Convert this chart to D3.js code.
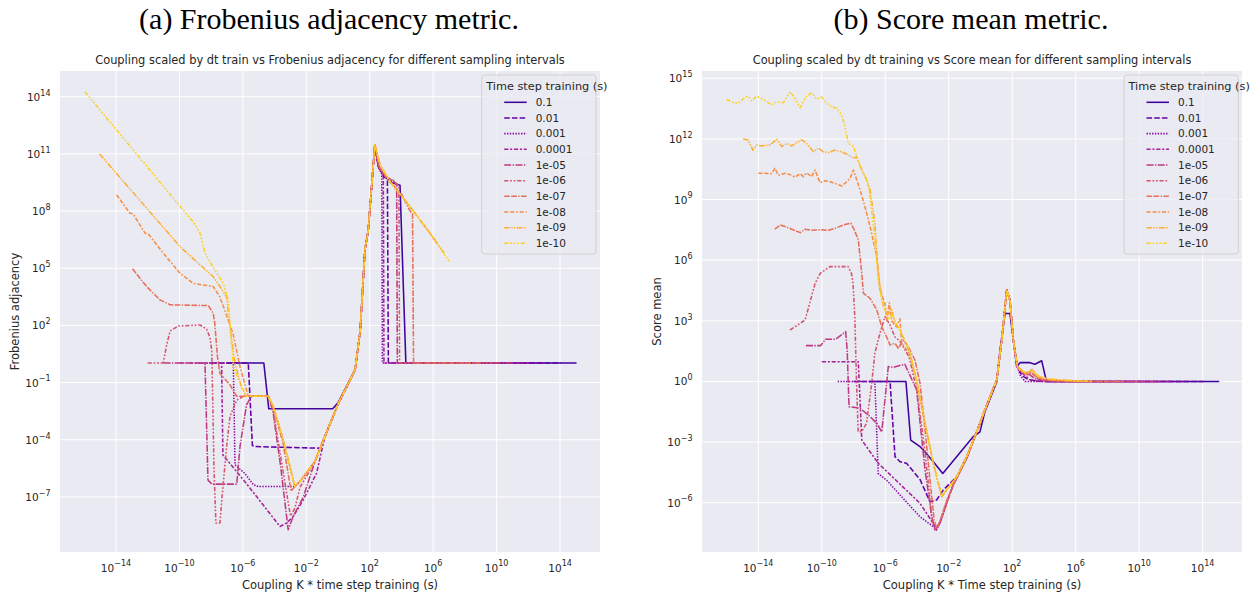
<!DOCTYPE html>
<html>
<head>
<meta charset="utf-8">
<script src="https://cdn.jsdelivr.net/npm/d3@7"></script>
<style>
  body { margin: 0; background: #ffffff; }
  svg text { font-family: "DejaVu Sans", sans-serif; fill: #262626; }
</style>
</head>
<body>
<svg id="fig" width="1256" height="592"></svg>
<script>
// ---- Hue levels (training time step, seconds) ----
const dtLabels = ["0.1", "0.01", "0.001", "0.0001", "1e-05", "1e-06", "1e-07", "1e-08", "1e-09", "1e-10"];

// ---- Tick values ----
const xTicks = [1e-14, 1e-10, 1e-6, 1e-2, 1e2, 1e6, 1e10, 1e14];
const adjYTicks = [1e-7, 1e-4, 1e-1, 1e2, 1e5, 1e8, 1e11, 1e14];
const scoreYTicks = [1e-6, 1e-3, 1, 1e3, 1e6, 1e9, 1e12, 1e15];

// ---- Frobenius adjacency vs coupling K * dt, one array per dt ----
const adj_1e1 = [[1e-7,1.07],[2.1e-5,1.07],[4.3e-5,4.2e-3],[0.46,4.2e-3],[1.0,8.7e-3],[12,0.47],[25,50],[50,9.1e5],[81,1e7],[210,3.0e11],[350,2.1e10],[930,6.3e9],[2500,3.1e9],[8100,2.3e9],[1.9e4,1.07],[1.1e15,1.07]];
const adj_1e2 = [[1e-8,1.07],[2.2e-6,1.07],[4.0e-6,5.0e-5],[5.6e-6,4.4e-5],[0.074,3.6e-5],[0.15,1.5e-4],[1.05,8.1e-3],[12,0.47],[25,50],[50,9.1e5],[81,1e7],[210,3.0e11],[350,2.3e10],[790,6.3e9],[1300,5.0e9],[1500,1.07],[1.1e14,1.07]];
const adj_1e3 = [[1e-9,1.07],[2.5e-7,1.07],[3.2e-7,4.8e-6],[1.35e-6,1.7e-6],[4.6e-6,4.4e-7],[9.3e-6,3.5e-7],[1.9e-3,3.5e-7],[4.0e-3,6.5e-7],[3.5e-2,7.2e-6],[0.15,1.5e-4],[1.05,8.1e-3],[12,0.47],[25,50],[50,9.1e5],[81,1e7],[210,3.0e11],[350,2.0e10],[575,8.9e9],[630,1.07],[1.1e13,1.07]];
const adj_1e4 = [[1e-10,1.07],[4.6e-8,1.07],[5.5e-8,1.6e-5],[1.35e-6,6.3e-7],[2.2e-4,2.8e-9],[5.8e-4,4.3e-9],[1.5e-3,9.5e-9],[6.5e-3,7.1e-8],[4.5e-2,1.8e-6],[0.15,1.5e-4],[1.05,8.1e-3],[12,0.47],[25,50],[50,9.1e5],[81,1e7],[210,3.0e11],[350,2.3e10],[720,7.9e9],[790,1.07],[1.1e12,1.07]];
const adj_1e5 = [[1e-11,1.07],[4.1e-9,1.07],[6.3e-9,7.8e-7],[1.1e-8,4.7e-7],[4.1e-7,4.7e-7],[6.6e-7,4.4e-5],[1.7e-6,6.8e-3],[3.5e-6,1.9e-2],[4.0e-5,1.9e-2],[7.9e-5,3.2e-3],[2.5e-4,3.2e-6],[7.2e-4,1.9e-9],[1.5e-3,9.5e-9],[6.5e-3,1e-7],[3.5e-2,7.2e-6],[0.15,1.5e-4],[1.05,8.1e-3],[12,0.47],[25,50],[50,9.1e5],[81,1e7],[210,3.0e11],[350,2.5e10],[1000,6.3e9],[2800,4.0e9],[5000,2.5e9],[5500,1.07],[1.1e11,1.07]];
const adj_1e6 = [[1e-12,1.07],[9.5e-12,1.07],[1.6e-11,10],[2.6e-11,51],[8.5e-11,93],[2.0e-9,105],[5.2e-9,63],[8.5e-9,23],[1.1e-8,4.6],[1.26e-8,1.2e-2],[1.5e-8,4.0e-6],[2.0e-8,4.3e-9],[3.6e-8,4.3e-9],[4.7e-8,7.1e-8],[9.5e-8,4.4e-5],[1.55e-7,1.7e-3],[4.1e-7,1.2e-2],[1.07e-6,1.9e-2],[4.0e-5,1.9e-2],[7.9e-5,4.0e-3],[3.2e-4,3.2e-6],[1e-3,1e-8],[1.9e-3,2.5e-8],[4.0e-3,3.2e-7],[3.5e-2,7.2e-6],[0.15,1.5e-4],[1.05,8.1e-3],[12,0.47],[25,50],[50,9.1e5],[81,1e7],[210,3.0e11],[350,2.5e10],[1000,6.3e9],[3200,4.0e9],[6900,2.0e9],[7600,1.07],[1.1e10,1.07]];
const adj_1e7 = [[1.1e-13,9.3e4],[8.5e-13,1.1e4],[5.9e-12,2.2e3],[2.6e-11,1.2e3],[6.6e-9,1.1e3],[1.35e-8,440],[1.7e-8,130],[2.5e-8,2.3],[3.6e-8,0.30],[1.55e-7,7.6e-2],[4.1e-7,1.9e-2],[4.0e-5,1.9e-2],[8.3e-5,5.0e-3],[3.5e-4,6.3e-5],[1.1e-3,2.0e-7],[1.9e-3,3.5e-7],[4.0e-3,6.5e-7],[3.5e-2,7.2e-6],[0.15,1.5e-4],[1.05,8.1e-3],[12,0.47],[25,50],[50,9.1e5],[81,1e7],[210,3.0e11],[400,2.0e10],[2000,3.2e9],[1e4,7.9e8],[3.5e4,1.0e8],[5.0e4,7.1e7],[5.8e4,1.07],[1.1e9,1.07]];
const adj_1e8 = [[1.1e-14,7.1e8],[7.6e-14,7.6e7],[1.2e-13,7.1e7],[6.8e-13,6.9e6],[1.1e-12,6.3e6],[9.5e-12,6.2e5],[1.1e-10,5.5e4],[7.4e-10,1.6e4],[1.35e-8,1.1e4],[3.5e-8,3.2e3],[1.2e-7,195],[2.5e-7,32],[6.6e-7,0.69],[2.2e-6,1.9e-2],[4.0e-5,1.9e-2],[8.3e-5,5.5e-3],[3.5e-4,1e-4],[1.9e-3,3.5e-7],[4.0e-3,6.5e-7],[3.5e-2,7.2e-6],[0.15,1.5e-4],[1.05,8.1e-3],[12,0.47],[25,50],[50,9.1e5],[81,1e7],[210,3.0e11],[450,2.6e10],[1900,3.5e9],[3.5e4,1.7e8],[6.3e5,6.8e6],[2.0e6,1.8e6]];
const adj_1e9 = [[9.3e-16,1e11],[1.1e-10,1.35e6],[2.0e-9,1.5e5],[1.35e-8,3.6e4],[3.6e-8,1.1e4],[9.5e-8,3.2e3],[1.6e-7,63],[3.2e-7,1.0],[7.9e-7,6.3e-2],[1.6e-6,1.9e-2],[4.0e-5,1.9e-2],[8.3e-5,5.5e-3],[3.5e-4,1e-4],[1.9e-3,3.5e-7],[4.0e-3,6.5e-7],[3.5e-2,7.2e-6],[0.15,1.5e-4],[1.05,8.1e-3],[12,0.47],[25,50],[50,9.1e5],[81,1e7],[210,3.0e11],[450,2.6e10],[1900,3.5e9],[3.5e4,1.7e8],[6.3e5,6.8e6],[5.0e6,6.3e5]];
const adj_1e10 = [[1.1e-16,1.8e14],[1.4e-10,1.4e8],[7.4e-10,2.75e7],[2.0e-9,6.9e6],[4.1e-9,6.2e5],[1.7e-8,8.1e4],[5.9e-8,1.6e4],[1.2e-7,2.2e3],[2.5e-7,0.69],[6.6e-7,9.3e-2],[1.7e-6,1.9e-2],[4.0e-5,1.9e-2],[8.3e-5,5.5e-3],[3.5e-4,1e-4],[1.9e-3,3.5e-7],[4.0e-3,6.5e-7],[3.5e-2,7.2e-6],[0.15,1.5e-4],[1.05,8.1e-3],[12,0.47],[25,50],[50,9.1e5],[81,1e7],[210,3.0e11],[450,2.6e10],[1900,3.5e9],[3.5e4,1.7e8],[6.3e5,6.8e6],[1.15e7,1.95e5]];

// ---- Score mean vs coupling K * dt, one array per dt ----
const score_1e1 = [[1e-7,1],[2.0e-5,1],[4.0e-5,1.26e-3],[1.55e-4,5.9e-4],[2.5e-4,4.1e-4],[1.07e-3,1.07e-4],[4.2e-3,2.8e-5],[0.355,1.86e-3],[0.93,3.2e-3],[1.9,3.2e-2],[10.5,0.95],[17,35],[35,2.3e3],[72,2.3e3],[190,5.4],[310,8.5],[1300,8.5],[2700,7.1],[7200,10.5],[1.17e4,2.0],[1.5e4,1],[1.1e15,1]];
const score_1e2 = [[1e-8,1],[2.0e-6,1],[4.1e-6,1.9e-4],[8.5e-6,1.07e-4],[2.2e-5,8.9e-5],[1.55e-4,1.4e-5],[6.6e-4,1.1e-6],[1.7e-3,1.35e-6],[4.6e-3,4.3e-6],[3.2e-2,1.95e-5],[0.135,1.9e-4],[0.58,3.2e-3],[2.5,6.8e-2],[10.5,1.17],[22,112],[45,3.3e4],[72,1.07e4],[117,112],[210,5.4],[400,2.0],[1000,1.26],[3200,1.05],[1e4,1],[1.1e14,1]];
const score_1e3 = [[1e-9,1],[2.2e-7,1],[3.6e-7,2.8e-5],[1.2e-6,1.3e-5],[1.55e-4,2.0e-7],[1.07e-3,6.5e-8],[1.7e-3,4.5e-8],[2.8e-3,1e-7],[7.4e-3,1e-6],[1.95e-2,7.9e-6],[0.135,1.6e-4],[0.58,3.2e-3],[2.5,6.8e-2],[10.5,1.17],[22,112],[45,3.3e4],[72,1.07e4],[117,112],[210,5.4],[320,2.0],[630,1],[1.1e13,1]];
const score_1e4 = [[1e-10,9.5],[2.0e-8,9.5],[3.3e-8,1.26e-3],[3.6e-7,8.9e-5],[1.55e-4,9.3e-7],[1e-3,1e-7],[1.6e-3,5.0e-8],[2.8e-3,1e-7],[7.4e-3,1e-6],[1.95e-2,7.9e-6],[0.135,1.6e-4],[0.58,3.2e-3],[2.5,6.8e-2],[10.5,1.17],[22,112],[45,3.3e4],[72,1.07e4],[117,112],[210,5.4],[320,3.2],[630,2.0],[1260,1.26],[4000,1.05],[1.6e4,1],[1.1e12,1]];
const score_1e5 = [[1e-11,59],[8.5e-11,59],[1.7e-10,123],[7.4e-10,123],[3.2e-9,290],[4.0e-9,32],[5.2e-9,5.6e-2],[2.5e-8,4.7e-2],[8.5e-8,2.2e-2],[2.9e-7,8.5e-3],[6.0e-7,3.2e-3],[1.55e-6,5.4],[3.2e-6,5.0],[1.7e-5,7.1],[9.5e-5,0.38],[3.2e-4,4.2e-5],[8.5e-4,2.0e-7],[1.35e-3,4.5e-8],[2.8e-3,1e-7],[7.4e-3,1e-6],[1.95e-2,7.9e-6],[0.135,1.6e-4],[0.58,3.2e-3],[2.5,6.8e-2],[10.5,1.17],[22,112],[45,3.3e4],[72,1.07e4],[117,112],[210,5.4],[280,4.0],[500,2.24],[1000,2.5],[2500,1.41],[1e4,1.07],[4e4,1],[1.1e11,1]];
const score_1e6 = [[1e-12,350],[8.9e-12,1.1e3],[3.8e-11,7.2e4],[7.9e-11,2.2e5],[3.2e-10,4.8e5],[4.5e-9,4.8e5],[7.4e-9,2.2e5],[9.3e-9,7.2e4],[1.2e-8,1.6e3],[1.55e-8,0.81],[1.95e-8,3.2e-3],[3.2e-8,3.2e-3],[6.6e-8,8.5e-3],[1.4e-7,0.81],[2.2e-7,25],[4.6e-7,240],[9.5e-7,1.6e3],[2.0e-6,630],[4.0e-6,160],[8.3e-6,100],[3.2e-5,16],[1e-4,0.32],[3.2e-4,3.2e-4],[8.5e-4,2.0e-7],[1.35e-3,4.5e-8],[2.8e-3,1e-7],[7.4e-3,1e-6],[1.95e-2,7.9e-6],[0.135,1.6e-4],[0.58,3.2e-3],[2.5,6.8e-2],[10.5,1.17],[22,112],[45,3.3e4],[72,1.07e4],[117,112],[210,5.4],[320,3.5],[790,2.0],[1600,2.8],[4000,1.41],[2e4,1.12],[1e5,1],[1.1e10,1]];
const score_1e7 = [[1.1e-13,3.4e7],[2.4e-13,5.5e7],[6.3e-13,4.3e7],[1.66e-12,3.1e7],[4.4e-12,2.3e7],[8.9e-12,3.4e7],[2.3e-11,3.0e7],[7.9e-11,3.2e7],[2.6e-10,3.0e7],[7.1e-10,3.8e7],[2.3e-9,5.5e7],[6.8e-9,6.8e7],[1.1e-8,3.2e7],[2.0e-8,1e7],[3.3e-8,2.2e5],[4.2e-8,2.3e4],[1.1e-7,1.3e4],[2.9e-7,3.5e3],[6.0e-7,510],[1.2e-6,160],[2.0e-6,63],[4.1e-6,78],[6.6e-6,44],[1.4e-5,112],[2.8e-5,52],[7.4e-5,11.5],[1.55e-4,0.81],[3.2e-4,4.0e-3],[6.6e-4,1.3e-5],[1.2e-3,1.4e-7],[1.7e-3,5.6e-8],[2.8e-3,1.26e-7],[7.4e-3,1.26e-6],[1.95e-2,7.9e-6],[0.135,1.6e-4],[0.58,3.2e-3],[2.5,6.8e-2],[10.5,1.17],[22,112],[45,3.3e4],[72,1.07e4],[117,112],[210,5.4],[320,4.0],[630,2.5],[1260,3.2],[3200,1.6],[1.6e4,1.2],[1e5,1.07],[4e5,1],[1.1e9,1]];
const score_1e8 = [[1e-14,2.0e10],[2.0e-14,2.0e10],[6.9e-14,1.9e10],[1.1e-13,3.5e10],[1.8e-13,1.6e10],[4.8e-13,2.0e10],[1.26e-12,1.6e10],[2.0e-12,1.26e10],[4.3e-12,1.9e10],[6.9e-12,1.35e10],[1.1e-11,2.1e10],[2.3e-11,1.35e10],[3.7e-11,2.9e10],[7.8e-11,6.8e9],[1.6e-10,8.5e9],[3.3e-10,7.6e9],[8.7e-10,5.8e9],[1.8e-9,4.7e9],[3.7e-9,7.6e9],[6.0e-9,1.1e10],[9.8e-9,2.9e10],[1.6e-8,9.3e9],[2.6e-8,3.0e9],[5.2e-8,4.5e8],[1.1e-7,4.6e7],[2.9e-7,1.5e6],[4.7e-7,3.3e4],[9.5e-7,7.4e3],[1.26e-6,1e3],[1.8e-6,7.9e3],[2.5e-6,1e3],[5.0e-6,500],[8.3e-6,1.26e3],[1.07e-5,79],[3.2e-5,25],[9.5e-5,1.0],[3.2e-4,8.5e-3],[1.07e-3,8.9e-5],[3.6e-3,2.0e-6],[7.4e-3,4.3e-6],[3.2e-2,1.95e-5],[0.135,1.9e-4],[0.58,3.2e-3],[2.5,6.8e-2],[10.5,1.17],[22,112],[45,3.3e4],[72,1.07e4],[117,112],[210,5.4],[320,3.2],[790,2.24],[1800,4.0],[3200,1.8],[2e4,1.26],[1.6e5,1.12],[1e6,1],[2.0e6,1]];
const score_1e9 = [[1.1e-15,1e12],[2.3e-15,8.9e11],[4.5e-15,2.8e11],[7.9e-15,5.0e11],[1.6e-14,4.5e11],[5.5e-14,5.0e11],[1.45e-13,9.5e11],[3.0e-13,4.2e11],[6.2e-13,6.0e11],[1.26e-12,4.5e11],[2.6e-12,6.5e11],[5.4e-12,8.9e11],[1.1e-11,6.0e11],[3.0e-11,2.3e11],[6.0e-11,3.5e11],[1.26e-10,2.3e11],[2.6e-10,2.1e11],[6.8e-10,2.8e11],[1.8e-9,2.3e11],[4.7e-9,1.6e11],[9.8e-9,1.1e11],[1.6e-8,1.3e11],[3.3e-8,2.9e10],[6.8e-8,9.3e9],[1.1e-7,3.0e9],[2.2e-7,6.8e7],[3.6e-7,2.2e5],[7.6e-7,5.0e3],[1.4e-6,2.0e3],[2.5e-6,4.0e3],[4.0e-6,790],[8.3e-6,355],[3.2e-5,32],[9.5e-5,1.17],[3.2e-4,8.5e-3],[1.07e-3,8.9e-5],[3.6e-3,2.0e-6],[7.4e-3,4.3e-6],[3.2e-2,1.95e-5],[0.135,1.9e-4],[0.58,3.2e-3],[2.5,6.8e-2],[10.5,1.17],[22,112],[45,3.3e4],[72,1.07e4],[117,112],[210,5.4],[280,4.5],[710,2.5],[2000,3.5],[5000,1.6],[3.2e4,1.26],[3.2e5,1.12],[5.0e6,1]];
const score_1e10 = [[1.0e-16,9.1e13],[2.6e-16,6.2e13],[5.5e-16,5.8e13],[1.45e-15,1.15e14],[2.3e-15,1.3e14],[3.8e-15,7.6e13],[7.9e-15,1.3e14],[2.0e-14,9.1e13],[6.9e-14,4.8e13],[1.45e-13,6.9e13],[3.8e-13,6.2e13],[1.0e-12,2.2e14],[2.0e-12,1.0e14],[4.3e-12,3.5e13],[8.7e-12,1.0e14],[1.1e-11,1.3e14],[2.3e-11,1.9e14],[4.8e-11,9.1e13],[9.8e-11,1.2e14],[2.0e-10,5.8e13],[4.3e-10,3.9e13],[8.7e-10,3.3e13],[1.8e-9,1.5e13],[2.9e-9,4.0e12],[4.7e-9,6.0e11],[9.8e-9,4.2e11],[2.6e-8,4.3e10],[6.8e-8,9.3e9],[1.1e-7,1.4e9],[2.2e-7,1.0e7],[3.6e-7,1.05e5],[6.0e-7,1.07e4],[9.5e-7,3.5e3],[1.6e-6,1.26e3],[2.8e-6,2.0e3],[5.0e-6,790],[8.3e-6,355],[3.2e-5,40],[9.5e-5,1.17],[3.2e-4,8.5e-3],[1.07e-3,8.9e-5],[3.6e-3,2.0e-6],[7.4e-3,4.3e-6],[3.2e-2,1.95e-5],[0.135,1.9e-4],[0.58,3.2e-3],[2.5,6.8e-2],[10.5,1.17],[22,112],[45,3.3e4],[72,1.07e4],[117,112],[210,5.4],[320,3.5],[790,2.8],[2100,3.5],[4000,2.0],[1.6e4,1.3],[1e5,1.2],[1e6,1.07],[1.15e7,1]];

const adjSeries = [adj_1e1, adj_1e2, adj_1e3, adj_1e4, adj_1e5, adj_1e6, adj_1e7, adj_1e8, adj_1e9, adj_1e10];
const scoreSeries = [score_1e1, score_1e2, score_1e3, score_1e4, score_1e5, score_1e6, score_1e7, score_1e8, score_1e9, score_1e10];

// ---- Styling ----
const LW = 1.55;
const dashBase = [null, [4,1.5], [1,1], [3,1.25,1.5,1.25], [5,1,1,1],
  [3,1.25,1.25,1.25,1.25,1.25], [4,1,4,1,1,1], [3,1.25,3,1.25,1.25,1.25],
  [4,1,1,1,1,1], [3,1.25,1.25,1.25,1.25,1.25,1.25,1.25]];
const dashArray = i => dashBase[i] ? dashBase[i].map(v => (v * 1.4).toFixed(2)).join(",") : null;
const colorOf = i => d3.interpolatePlasma((i + 1) / (dtLabels.length + 1));

const svg = d3.select("#fig");

const panels = [
  {
    left: 60, top: 71, right: 600, bottom: 552,
    xLim: [Math.pow(10, -17.53), Math.pow(10, 16.52)],
    yLim: [Math.pow(10, -9.89), Math.pow(10, 15.35)],
    series: adjSeries, yTicks: adjYTicks,
    title: "Coupling scaled by dt train vs Frobenius adjacency for different sampling intervals",
    xLabel: "Coupling K * time step training  (s)",
    yLabel: "Frobenius adjacency",
    caption: "(a) Frobenius adjacency metric.",
    legendX: 481.7
  },
  {
    left: 702, top: 71, right: 1242, bottom: 552,
    xLim: [Math.pow(10, -17.55), Math.pow(10, 16.48)],
    yLim: [Math.pow(10, -8.44), Math.pow(10, 15.36)],
    series: scoreSeries, yTicks: scoreYTicks,
    title: "Coupling scaled by dt training vs Score mean for different sampling intervals",
    xLabel: "Coupling K * Time step training (s)",
    yLabel: "Score mean",
    caption: "(b) Score mean metric.",
    legendX: 1124
  }
];

function powerLabel(sel, v) {
  const e = Math.round(Math.log10(v));
  sel.text("10");
  sel.append("tspan").attr("dy", -5.2).attr("font-size", 8)
    .text(e < 0 ? "\u2212" + (-e) : String(e));
}

panels.forEach((p, pi) => {
  const x = d3.scaleLog().domain(p.xLim).range([p.left, p.right]);
  const y = d3.scaleLog().domain(p.yLim).range([p.bottom, p.top]);
  const g = svg.append("g");
  const cx = (p.left + p.right) / 2;
  const cy = (p.top + p.bottom) / 2;

  // subfigure caption
  g.append("text").attr("x", cx - 1).attr("y", 29).attr("text-anchor", "middle")
    .style("font-family", '"Liberation Serif", serif').attr("font-size", 30)
    .style("fill", "#000").text(p.caption);

  // axes background
  g.append("rect").attr("x", p.left).attr("y", p.top)
    .attr("width", p.right - p.left).attr("height", p.bottom - p.top)
    .attr("fill", "#eaeaf2");

  // grid
  g.append("g").selectAll("line").data(xTicks).join("line")
    .attr("x1", d => x(d)).attr("x2", d => x(d))
    .attr("y1", p.top).attr("y2", p.bottom)
    .attr("stroke", "#fff").attr("stroke-width", 1);
  g.append("g").selectAll("line").data(p.yTicks).join("line")
    .attr("y1", d => y(d)).attr("y2", d => y(d))
    .attr("x1", p.left).attr("x2", p.right)
    .attr("stroke", "#fff").attr("stroke-width", 1);

  // tick labels
  g.append("g").selectAll("text").data(xTicks).join("text")
    .attr("x", d => x(d)).attr("y", p.bottom + 19.5)
    .attr("text-anchor", "middle").attr("font-size", 10.5)
    .each(function(d) { powerLabel(d3.select(this), d); });
  g.append("g").selectAll("text").data(p.yTicks).join("text")
    .attr("x", p.left - 9.5).attr("y", d => y(d) + 4)
    .attr("text-anchor", "end").attr("font-size", 10.5)
    .each(function(d) { powerLabel(d3.select(this), d); });

  // titles and axis labels
  g.append("text").attr("x", cx).attr("y", 64).attr("text-anchor", "middle")
    .attr("font-size", 11.4).text(p.title);
  g.append("text").attr("x", cx + 10).attr("y", 589).attr("text-anchor", "middle")
    .attr("font-size", 11.5).text(p.xLabel);
  g.append("text").attr("transform", `translate(${p.left - 41},${cy}) rotate(-90)`)
    .attr("text-anchor", "middle").attr("font-size", 11.5).text(p.yLabel);

  // lines
  const clipId = "clip" + pi;
  svg.append("clipPath").attr("id", clipId).append("rect")
    .attr("x", p.left).attr("y", p.top)
    .attr("width", p.right - p.left).attr("height", p.bottom - p.top);
  const line = d3.line().x(d => x(d[0])).y(d => y(d[1]));
  g.append("g").attr("clip-path", `url(#${clipId})`)
    .selectAll("path").data(p.series).join("path")
    .attr("d", d => line(d))
    .attr("fill", "none")
    .attr("stroke", (d, i) => colorOf(i))
    .attr("stroke-width", LW)
    .attr("stroke-linejoin", "round")
    .attr("stroke-dasharray", (d, i) => dashArray(i));

  // legend
  const lx = p.legendX, ly = 75, lw = 114.3, lh = 179;
  const lg = g.append("g");
  lg.append("rect").attr("x", lx).attr("y", ly).attr("width", lw).attr("height", lh)
    .attr("rx", 3).attr("fill", "rgba(234,234,242,0.8)").attr("stroke", "#cccccc").attr("stroke-width", 0.8);
  lg.append("text").attr("x", lx + 4.5).attr("y", ly + 14.8).attr("font-size", 11.3)
    .text("Time step training (s)");
  dtLabels.forEach((lab, i) => {
    const yy = 102.3 + i * 15.67;
    lg.append("line").attr("x1", lx + 22.5).attr("x2", lx + 45)
      .attr("y1", yy).attr("y2", yy)
      .attr("stroke", colorOf(i)).attr("stroke-width", LW)
      .attr("stroke-dasharray", dashArray(i));
    lg.append("text").attr("x", lx + 54).attr("y", yy + 3.8)
      .attr("font-size", 10.5).text(lab);
  });
});
</script>
</body>
</html>
